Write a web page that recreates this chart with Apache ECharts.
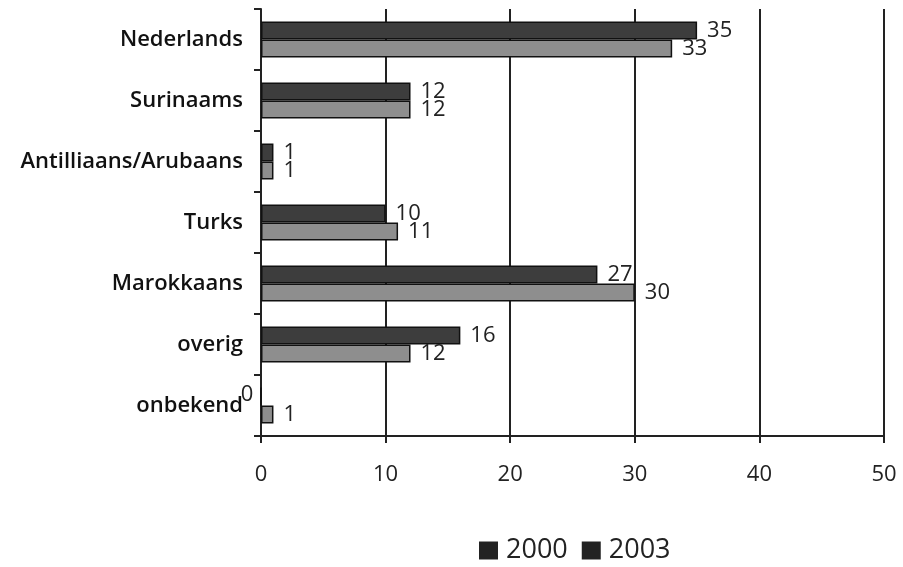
<!DOCTYPE html>
<html><head><meta charset="utf-8">
<script src="https://cdn.jsdelivr.net/npm/echarts@6/dist/echarts.min.js"></script>
<style>html,body{margin:0;padding:0;background:#fff}#c{width:903px;height:567px}</style>
</head><body><div id="c"></div>
<script>
const categories = ['Nederlands','Surinaams','Antilliaans/Arubaans','Turks','Marokkaans','overig','onbekend'];
const values2000 = [35, 12, 1, 10, 27, 16, 0];
const values2003 = [33, 12, 1, 11, 30, 12, 1];
const xTicks = [0, 10, 20, 30, 40, 50];

const chart = echarts.init(document.getElementById('c'));
const FF = '"Open Sans", sans-serif';
const lblFont = {fontFamily: FF, fontSize: 22, color: '#222'};
chart.setOption({
  animation: false,
  backgroundColor: '#fff',
  grid: {left: 261, right: 19, top: 9, bottom: 131},
  legend: {
    top: 537, left: 479, padding: 0, itemWidth: 19, itemHeight: 18, itemGap: 14,
    icon: 'rect',
    textStyle: {fontFamily: FF, fontSize: 27, color: '#222', padding: [0,0,0,3]},
    data: [{name: '2000', itemStyle: {color: '#222', borderWidth: 0}}, {name: '2003', itemStyle: {color: '#222', borderWidth: 0}}]
  },
  xAxis: {
    type: 'value', min: xTicks[0], max: xTicks[xTicks.length-1], interval: 10,
    axisLine: {show: true, lineStyle: {color: '#222', width: 2}},
    axisTick: {show: true, length: 7, lineStyle: {color: '#222', width: 2}},
    splitLine: {show: true, lineStyle: {color: '#222', width: 2}},
    axisLabel: {fontFamily: FF, fontSize: 22, color: '#222', margin: 28}
  },
  yAxis: {
    type: 'category', inverse: true, data: categories,
    axisLine: {show: true, lineStyle: {color: '#222', width: 2}},
    axisTick: {show: true, length: 7, lineStyle: {color: '#222', width: 2}},
    axisLabel: {fontFamily: FF, fontSize: 22, fontWeight: 600, color: '#111', margin: 18}
  },
  series: [
    {
      name: '2000', type: 'bar', barWidth: 18, barGap: '0%',
      itemStyle: {color: '#3d3d3d', borderColor: '#111', borderWidth: 1.5},
      label: {show: true, position: 'right', distance: 10, ...lblFont},
      data: values2000.map((v, i) => i === 6 ? {value: v, label: {offset: [-31, -2]}} : v)
    },
    {
      name: '2003', type: 'bar', barWidth: 18,
      itemStyle: {color: '#8e8e8e', borderColor: '#111', borderWidth: 1.5},
      label: {show: true, position: 'right', distance: 10, ...lblFont},
      data: values2003
    }
  ]
});
</script></body></html>
